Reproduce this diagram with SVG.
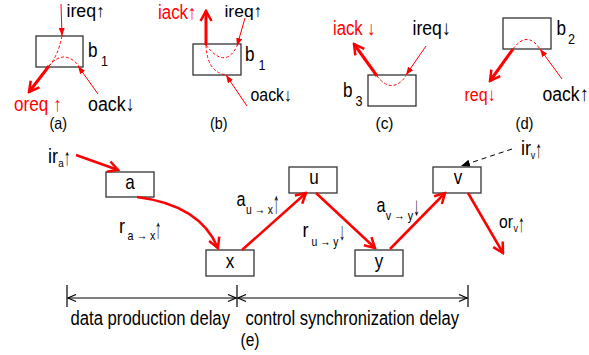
<svg xmlns="http://www.w3.org/2000/svg" width="589" height="355" viewBox="0 0 589 355">
<style>
text{font-family:"Liberation Sans",Arial,sans-serif;font-size:17px;fill:#000}
.red{fill:#ff0000}
.cap{font-size:14.3px}
.num{font-size:12.6px}
.ab{font-weight:bold}
.ea{font-size:13px}
.box{fill:#fff;stroke:#333;stroke-width:1.3}
.thick{fill:none;stroke:#ff0000;stroke-width:3;marker-end:url(#mThick)}
.conn{fill:none;stroke:#ff0000;stroke-width:2.5;marker-end:url(#mThick)}
.thin{fill:none;stroke:#ff0000;stroke-width:1;marker-end:url(#mThin)}
.dash{fill:none;stroke:#ff0000;stroke-width:1;stroke-dasharray:3,2}
.dim{fill:none;stroke:#000;stroke-width:1.2;marker-start:url(#mDim);marker-end:url(#mDim)}
.tick{stroke:#000;stroke-width:1.2}
</style>
<defs>
<marker id="mThick" markerUnits="userSpaceOnUse" markerWidth="14" markerHeight="14" viewBox="0 0 14 14" refX="12" refY="7" orient="auto">
<path d="M2,1.5 L12,7 L2,12.5" fill="none" stroke="#ff0000" stroke-width="2.5"/>
</marker>
<marker id="mThin" markerUnits="userSpaceOnUse" markerWidth="8" markerHeight="6" viewBox="0 0 8 6" refX="8" refY="3" orient="auto">
<path d="M0,0 L8,3 L0,6 z" fill="#ff0000"/>
</marker>
<marker id="mDash" markerUnits="userSpaceOnUse" markerWidth="9" markerHeight="7" viewBox="0 0 9 7" refX="9" refY="3.5" orient="auto">
<path d="M0,0 L9,3.5 L0,7 z" fill="#000"/>
</marker>
<marker id="mDim" markerUnits="userSpaceOnUse" markerWidth="10" markerHeight="9" viewBox="0 0 10 9" refX="9" refY="4.5" orient="auto-start-reverse">
<path d="M1,1 L9,4.5 L1,8" fill="none" stroke="#000" stroke-width="1.2"/>
</marker>
</defs>

<g id="node-b1-a">
<rect class="box" x="36" y="36" width="47" height="31"/>
<text x="88" y="57.5" transform="matrix(1 0 0 1.18 0 -10.35)" textLength="9.5" lengthAdjust="spacingAndGlyphs">b</text>
<text class="num" x="101" y="66.5" transform="matrix(1 0 0 1.18 0 -11.97)" textLength="7" lengthAdjust="spacingAndGlyphs">1</text>
</g>
<g id="node-b1-b">
<rect class="box" x="193" y="44" width="48" height="31"/>
<text x="245" y="61.5" transform="matrix(1 0 0 1.18 0 -11.07)" textLength="9.5" lengthAdjust="spacingAndGlyphs">b</text>
<text class="num" x="258.5" y="70.5" transform="matrix(1 0 0 1.18 0 -12.69)" textLength="7" lengthAdjust="spacingAndGlyphs">1</text>
</g>
<g id="node-b3">
<rect class="box" x="368" y="75" width="48" height="31"/>
<text x="343" y="97" transform="matrix(1 0 0 1.18 0 -17.46)" textLength="9.5" lengthAdjust="spacingAndGlyphs">b</text>
<text class="num" x="355.5" y="106" transform="matrix(1 0 0 1.18 0 -19.08)" textLength="7" lengthAdjust="spacingAndGlyphs">3</text>
</g>
<g id="node-b2">
<rect class="box" x="503" y="18" width="48" height="31"/>
<text x="556.5" y="35.5" transform="matrix(1 0 0 1.18 0 -6.39)" textLength="9.5" lengthAdjust="spacingAndGlyphs">b</text>
<text class="num" x="568" y="44" transform="matrix(1 0 0 1.18 0 -7.92)" textLength="7" lengthAdjust="spacingAndGlyphs">2</text>
</g>

<g id="node-a"><rect class="box" x="106" y="172" width="48" height="25"/><text x="130" y="189" transform="matrix(1 0 0 1.18 0 -34.02)" text-anchor="middle" textLength="9.5" lengthAdjust="spacingAndGlyphs">a</text></g>
<g id="node-x"><rect class="box" x="206" y="250" width="48" height="26"/><text x="230" y="268.5" transform="matrix(1 0 0 1.18 0 -48.33)" text-anchor="middle" textLength="8.5" lengthAdjust="spacingAndGlyphs">x</text></g>
<g id="node-u"><rect class="box" x="289" y="167" width="48" height="26"/><text x="314" y="184" transform="matrix(1 0 0 1.18 0 -33.12)" text-anchor="middle" textLength="9.5" lengthAdjust="spacingAndGlyphs">u</text></g>
<g id="node-y"><rect class="box" x="355" y="250" width="48" height="26"/><text x="379" y="268" transform="matrix(1 0 0 1.18 0 -48.24)" text-anchor="middle" textLength="8.5" lengthAdjust="spacingAndGlyphs">y</text></g>
<g id="node-v"><rect class="box" x="433" y="167" width="48" height="26"/><text x="458" y="184" transform="matrix(1 0 0 1.18 0 -33.12)" text-anchor="middle" textLength="8.5" lengthAdjust="spacingAndGlyphs">v</text></g>

<g id="connectors">
<path class="thin" d="M61,4 L62,36"/>
<path class="dash" d="M62,36 Q58,56 49,66"/>
<path class="dash" d="M49,66 Q64,48 79,66"/>
<path class="thick" d="M49,66 L29,92"/>
<path class="thin" d="M98,94 L78,66"/>
<path class="thick" d="M206,45 L206,11"/>
<path class="thin" d="M245,18 L237,46"/>
<path class="dash" d="M206,45 Q225,70 237,46"/>
<path class="dash" d="M206,45 Q207,72 226,75"/>
<path class="thin" d="M247,106 L226,75"/>
<path class="thick" d="M377,76 L354,44"/>
<path class="thin" d="M426,46 L406,75"/>
<path class="dash" d="M377,76 Q392,95 406,76"/>
<path class="thick" d="M513,49 L490,81"/>
<path class="thin" d="M562,79 L540,49"/>
<path class="dash" d="M513,49 Q527,30 540,49"/>
<path class="conn" d="M76,155 L118,170"/>
<path class="conn" d="M137,197 Q200,205 218,248"/>
<path class="conn" d="M242,250 L306,193"/>
<path class="conn" d="M316,193 L375,248"/>
<path class="conn" d="M390,249 L445,193"/>
<path class="conn" d="M468,193 L503,253"/>
<path d="M512,149 L461,166" fill="none" stroke="#000" stroke-width="1" stroke-dasharray="5,4" marker-end="url(#mDash)"/>
<line class="tick" x1="67" y1="285" x2="67" y2="307"/>
<line class="tick" x1="237" y1="285" x2="237" y2="307"/>
<line class="tick" x1="468" y1="285" x2="468" y2="307"/>
<path class="dim" d="M68,298 L236,298"/>
<path class="dim" d="M238,298 L467,298"/>
</g>

<!-- (a) -->
<text x="66.5" y="16.5" style="font-size:18px" textLength="38.5" lengthAdjust="spacingAndGlyphs">ireq<tspan class="ab">↑</tspan></text>
<text class="red" x="14" y="111" transform="matrix(1 0 0 1.18 0 -19.98)" style="font-size:17.1px" textLength="47.5" lengthAdjust="spacingAndGlyphs">oreq <tspan class="ab">↑</tspan></text>
<text x="88" y="111" transform="matrix(1 0 0 1.18 0 -19.98)" style="font-size:17.8px" textLength="46.5" lengthAdjust="spacingAndGlyphs">oack<tspan class="ab">↓</tspan></text>
<text class="cap" x="49.5" y="129.5" transform="matrix(1 0 0 1.18 0 -23.31)" textLength="17.5" lengthAdjust="spacingAndGlyphs">(a)</text>
<!-- (b) -->
<text class="red" x="158" y="19.5" transform="matrix(1 0 0 1.18 0 -3.51)" style="font-size:16.9px" textLength="38.5" lengthAdjust="spacingAndGlyphs">iack<tspan class="ab">↑</tspan></text>
<text x="224.5" y="16.5" style="font-size:17.4px" textLength="37.8" lengthAdjust="spacingAndGlyphs">ireq<tspan class="ab">↑</tspan></text>
<text x="250.5" y="101.5" transform="matrix(1 0 0 1.18 0 -18.27)" style="font-size:15.9px" textLength="41.5" lengthAdjust="spacingAndGlyphs">oack<tspan class="ab">↓</tspan></text>
<text class="cap" x="210" y="129.5" transform="matrix(1 0 0 1.18 0 -23.31)" textLength="17.5" lengthAdjust="spacingAndGlyphs">(b)</text>
<!-- (c) -->
<text class="red" x="333" y="35" transform="matrix(1 0 0 1.18 0 -6.3)" style="font-size:16.7px" textLength="42.7" lengthAdjust="spacingAndGlyphs">iack <tspan class="ab">↓</tspan></text>
<text x="412.5" y="35" transform="matrix(1 0 0 1.18 0 -6.3)" style="font-size:17.6px" textLength="38.2" lengthAdjust="spacingAndGlyphs">ireq<tspan class="ab">↓</tspan></text>
<text class="cap" x="375.5" y="129.5" transform="matrix(1 0 0 1.18 0 -23.31)" textLength="18" lengthAdjust="spacingAndGlyphs">(c)</text>
<!-- (d) -->
<text class="red" x="464.5" y="101.5" transform="matrix(1 0 0 1.18 0 -18.27)" style="font-size:16px" textLength="31.2" lengthAdjust="spacingAndGlyphs">req<tspan class="ab">↓</tspan></text>
<text x="542.5" y="101.5" transform="matrix(1 0 0 1.18 0 -18.27)" style="font-size:17.6px" textLength="46" lengthAdjust="spacingAndGlyphs">oack<tspan class="ab">↑</tspan></text>
<text class="cap" x="515.5" y="129.5" transform="matrix(1 0 0 1.18 0 -23.31)" textLength="18" lengthAdjust="spacingAndGlyphs">(d)</text>

<!-- (e) labels -->
<text transform="matrix(1 0 0 1.18 0 -29.34)"><tspan x="48" y="163" textLength="10" lengthAdjust="spacingAndGlyphs">ir</tspan><tspan x="58.3" y="166" style="font-size:10px" textLength="5.5" lengthAdjust="spacingAndGlyphs">a</tspan></text>
<text class="ea" x="67.2" y="165" text-anchor="middle" transform="matrix(1 0 0 1.78 0 -128.7)">↑</text>

<text transform="matrix(1 0 0 1.18 0 -41.94)"><tspan x="119" y="233" textLength="6" lengthAdjust="spacingAndGlyphs">r</tspan><tspan x="127.5" y="238.93" style="font-size:10.5px" textLength="28" lengthAdjust="spacingAndGlyphs">a → x</tspan></text>
<text class="ea" x="158.3" y="238" text-anchor="middle" transform="matrix(1 0 0 2.13 0 -268.94)">↑</text>

<text transform="matrix(1 0 0 1.18 0 -37.08)"><tspan x="236.5" y="206" style="font-size:16.5px" textLength="9" lengthAdjust="spacingAndGlyphs">a</tspan><tspan x="246" y="212.78" style="font-size:10.3px" textLength="27" lengthAdjust="spacingAndGlyphs">u → x</tspan></text>
<text class="ea" x="276.3" y="213" text-anchor="middle" transform="matrix(1 0 0 2.37 0 -291.81)">↑</text>

<text transform="matrix(1 0 0 1.18 0 -42.66)"><tspan x="302.5" y="237" textLength="6" lengthAdjust="spacingAndGlyphs">r</tspan><tspan x="311.5" y="244.63" style="font-size:10.3px" textLength="27" lengthAdjust="spacingAndGlyphs">u → y</tspan></text>
<text class="ea" x="342" y="240" text-anchor="middle" transform="matrix(1 0 0 1.89 0 -213.6)">↓</text>

<text transform="matrix(1 0 0 1.18 0 -38.16)"><tspan x="376.5" y="212" style="font-size:16.5px" textLength="9" lengthAdjust="spacingAndGlyphs">a</tspan><tspan x="385.7" y="218.78" style="font-size:10.7px" textLength="27.5" lengthAdjust="spacingAndGlyphs">v → y</tspan></text>
<text class="ea" x="416.5" y="215" text-anchor="middle" transform="matrix(1 0 0 2 0 -215)">↓</text>

<text transform="matrix(1 0 0 1.18 0 -41.04)"><tspan x="499" y="228" style="font-size:16px" textLength="14" lengthAdjust="spacingAndGlyphs">or</tspan><tspan x="513.4" y="231.39" style="font-size:9px" textLength="4.5" lengthAdjust="spacingAndGlyphs">v</tspan></text>
<text class="ea" x="521.3" y="232" text-anchor="middle" transform="matrix(1 0 0 1.89 0 -206.48)">↑</text>

<text transform="matrix(1 0 0 1.18 0 -27.9)"><tspan x="521" y="155" textLength="10" lengthAdjust="spacingAndGlyphs">ir</tspan><tspan x="530.7" y="158.39" style="font-size:9px" textLength="4.5" lengthAdjust="spacingAndGlyphs">v</tspan></text>
<text class="ea" x="538.6" y="158" text-anchor="middle" transform="matrix(1 0 0 1.89 0 -140.62)">↑</text>

<text x="70.5" y="325" transform="matrix(1 0 0 1.18 0 -58.5)" style="font-size:16.7px" textLength="159.5" lengthAdjust="spacingAndGlyphs">data production delay</text>
<text x="245.5" y="325" transform="matrix(1 0 0 1.18 0 -58.5)" style="font-size:16.55px" textLength="213.5" lengthAdjust="spacingAndGlyphs">control synchronization delay</text>
<text x="240.5" y="346" transform="matrix(1 0 0 1.18 0 -62.28)" style="font-size:15.5px" textLength="19" lengthAdjust="spacingAndGlyphs">(e)</text>
</svg>
